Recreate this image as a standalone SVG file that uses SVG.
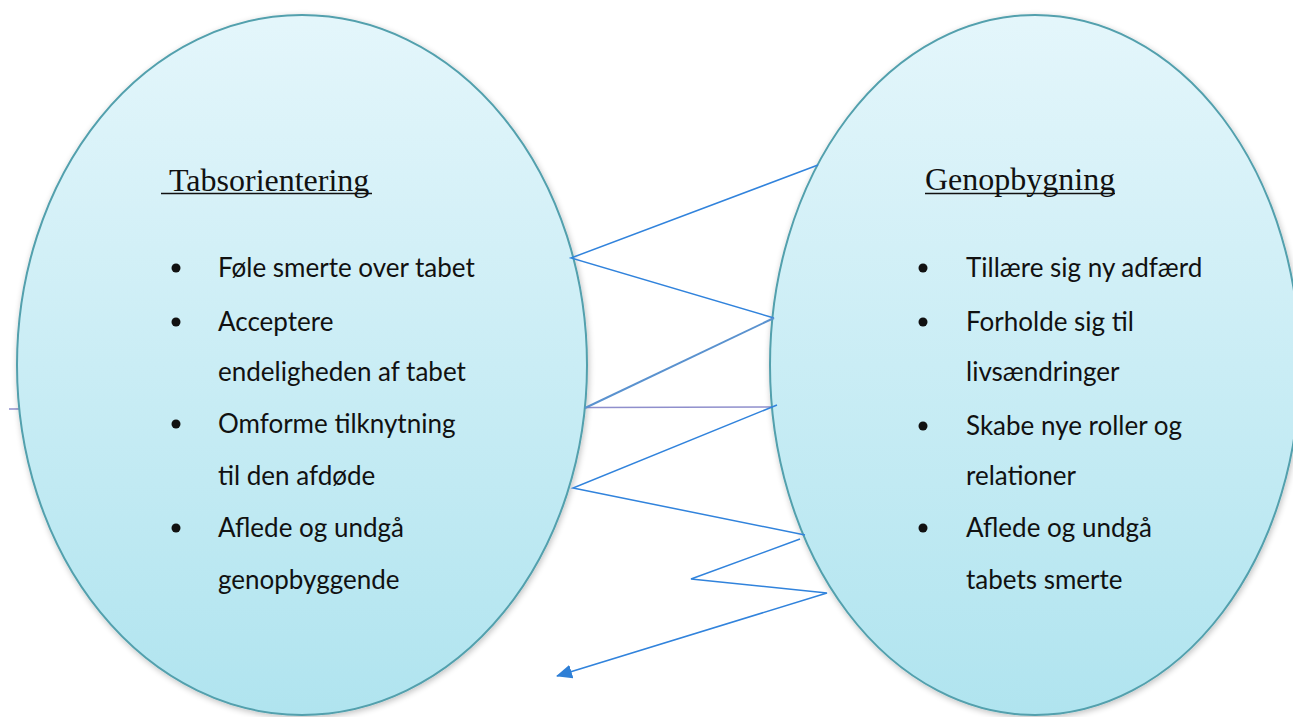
<svg xmlns="http://www.w3.org/2000/svg" width="1293" height="717" viewBox="0 0 1293 717">
<defs>
<linearGradient id="fill" x1="0" y1="0" x2="0" y2="1">
<stop offset="0" stop-color="#e4f6fb"/>
<stop offset="1" stop-color="#b0e4ef"/>
</linearGradient>
<filter id="sh" x="-10%" y="-10%" width="120%" height="120%">
<feGaussianBlur in="SourceAlpha" stdDeviation="3"/>
<feOffset dx="1" dy="2"/>
<feComponentTransfer><feFuncA type="linear" slope="0.25"/></feComponentTransfer>
<feMerge><feMergeNode/><feMergeNode in="SourceGraphic"/></feMerge>
</filter>
<marker id="arr" markerWidth="16" markerHeight="14" refX="15" refY="7" orient="auto" markerUnits="userSpaceOnUse">
<path d="M0,0 L16,7 L0,14 Z" fill="#2e7fd6"/>
</marker>
<style>
.ell{fill:url(#fill);stroke:#52a0ad;stroke-width:2;}
.title{font-family:"Liberation Serif","Times New Roman",serif;font-size:32px;fill:#111;}
.item{font-family:Lato,"Open Sans","Liberation Sans",sans-serif;font-size:26px;fill:#111;}
.ul{stroke:#111;stroke-width:1.6;}
.dot{fill:#111;}
.con{fill:none;stroke:#3183dc;stroke-width:1.5;}
</style>
</defs>
<rect width="1293" height="717" fill="#ffffff"/>
<g id="connector-behind">
<line x1="9" y1="409" x2="776" y2="407" stroke="#8f8fcc" stroke-width="1.5"/>
</g>
<g id="node-tabsorientering">
<ellipse class="ell" cx="302" cy="365" rx="285" ry="350" filter="url(#sh)"/>
<text class="title" x="169" y="191">Tabsorientering</text>
<line class="ul" x1="161" y1="193.5" x2="372" y2="193.5"/>
<circle class="dot" cx="176" cy="268" r="4.5"/>
<text class="item" x="218" y="277">Føle smerte over tabet</text>
<circle class="dot" cx="176" cy="322" r="4.5"/>
<text class="item" x="218" y="331">Acceptere</text>
<text class="item" x="218" y="381">endeligheden af tabet</text>
<circle class="dot" cx="176" cy="424" r="4.5"/>
<text class="item" x="218" y="433">Omforme tilknytning</text>
<text class="item" x="218" y="485">til den afdøde</text>
<circle class="dot" cx="176" cy="528" r="4.5"/>
<text class="item" x="218" y="537">Aflede og undgå</text>
<text class="item" x="218" y="589">genopbyggende</text>
</g>
<g id="node-genopbygning">
<ellipse class="ell" cx="1035" cy="365" rx="265" ry="350" filter="url(#sh)"/>
<text class="title" x="925" y="190">Genopbygning</text>
<line class="ul" x1="925" y1="193.5" x2="1115" y2="193.5"/>
<circle class="dot" cx="923" cy="268" r="4.5"/>
<text class="item" x="966" y="277">Tillære sig ny adfærd</text>
<circle class="dot" cx="923" cy="322" r="4.5"/>
<text class="item" x="966" y="331">Forholde sig til</text>
<text class="item" x="966" y="381">livsændringer</text>
<circle class="dot" cx="923" cy="426" r="4.5"/>
<text class="item" x="966" y="435">Skabe nye roller og</text>
<text class="item" x="966" y="485">relationer</text>
<circle class="dot" cx="923" cy="528" r="4.5"/>
<text class="item" x="966" y="537">Aflede og undgå</text>
<text class="item" x="966" y="589">tabets smerte</text>
</g>
<g id="connectors">
<polyline class="con" points="818,165 571,258 774,318"/>
<line x1="774" y1="318" x2="585" y2="408" stroke="#5a92cf" stroke-width="2"/>
<polyline class="con" points="777,405 573,488 805,535"/>
<polyline class="con" points="800,539 691,579 827,593 557,676" marker-end="url(#arr)"/>
</g>
</svg>
